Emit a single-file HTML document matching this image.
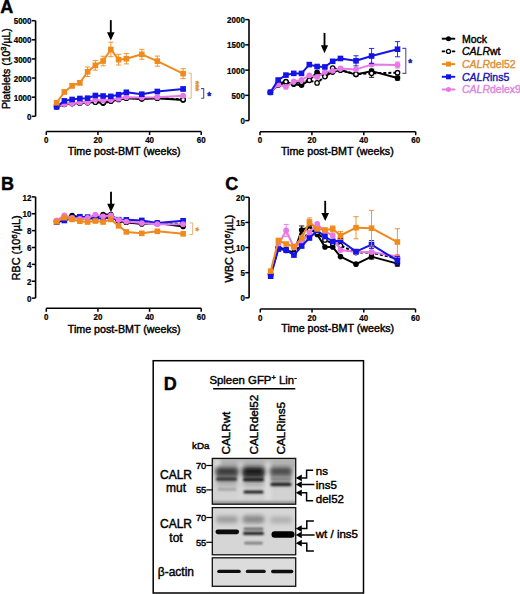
<!DOCTYPE html><html><head><meta charset="utf-8"><style>
html,body{margin:0;padding:0;background:#fff;width:520px;height:594px;overflow:hidden}
svg{display:block}
text{font-family:"Liberation Sans", sans-serif;stroke:#000;stroke-width:0.42px}
.tk{font-size:8px;font-weight:bold;stroke-width:0.2px}
.ax{font-size:10.7px}
.pl{font-size:18px;font-weight:bold}
.lg{font-size:10.5px}
</style></head><body>
<svg width="520" height="594" viewBox="0 0 520 594">
<text x="0.3" y="12.9" class="pl">A</text>
<text x="0.9" y="190.2" class="pl">B</text>
<text x="225.2" y="190.1" class="pl">C</text>
<line x1="35.6" y1="20.7" x2="35.6" y2="116.3" stroke="#000" stroke-width="1.6"/>
<line x1="31.8" y1="116.3" x2="35.6" y2="116.3" stroke="#000" stroke-width="1.5"/>
<text transform="translate(31.5,119.9) scale(1,1.15)" class="tk" text-anchor="end">0</text>
<line x1="31.8" y1="97.18" x2="35.6" y2="97.18" stroke="#000" stroke-width="1.5"/>
<text transform="translate(31.5,100.78) scale(1,1.15)" class="tk" text-anchor="end">1000</text>
<line x1="31.8" y1="78.06" x2="35.6" y2="78.06" stroke="#000" stroke-width="1.5"/>
<text transform="translate(31.5,81.66) scale(1,1.15)" class="tk" text-anchor="end">2000</text>
<line x1="31.8" y1="58.94" x2="35.6" y2="58.94" stroke="#000" stroke-width="1.5"/>
<text transform="translate(31.5,62.54) scale(1,1.15)" class="tk" text-anchor="end">3000</text>
<line x1="31.8" y1="39.82" x2="35.6" y2="39.82" stroke="#000" stroke-width="1.5"/>
<text transform="translate(31.5,43.42) scale(1,1.15)" class="tk" text-anchor="end">4000</text>
<line x1="31.8" y1="20.7" x2="35.6" y2="20.7" stroke="#000" stroke-width="1.5"/>
<text transform="translate(31.5,24.3) scale(1,1.15)" class="tk" text-anchor="end">5000</text>
<line x1="46.3" y1="131.5" x2="201.2" y2="131.5" stroke="#000" stroke-width="1.6"/>
<line x1="46.3" y1="131.5" x2="46.3" y2="135" stroke="#000" stroke-width="1.5"/>
<text transform="translate(46.3,143.1) scale(1,1.15)" class="tk" text-anchor="middle">0</text>
<line x1="97.93" y1="131.5" x2="97.93" y2="135" stroke="#000" stroke-width="1.5"/>
<text transform="translate(97.93,143.1) scale(1,1.15)" class="tk" text-anchor="middle">20</text>
<line x1="149.57" y1="131.5" x2="149.57" y2="135" stroke="#000" stroke-width="1.5"/>
<text transform="translate(149.57,143.1) scale(1,1.15)" class="tk" text-anchor="middle">40</text>
<line x1="201.2" y1="131.5" x2="201.2" y2="135" stroke="#000" stroke-width="1.5"/>
<text transform="translate(201.2,143.1) scale(1,1.15)" class="tk" text-anchor="middle">60</text>
<text x="67.8" y="155" class="ax">Time post-BMT (weeks)</text>
<text transform="translate(10,68.6) rotate(-90)" class="ax" font-size="10.5" style="font-size:10.5px" text-anchor="middle">Platelets (10<tspan dy="-4" font-size="7.5">3</tspan><tspan dy="4">/µL)</tspan></text>
<polyline points="56.63,106.74 64.37,104.45 72.12,103.68 79.86,102.92 87.61,102.53 95.35,101.79 103.1,103.18 110.84,101.18 118.59,99.47 126.33,98.14 141.82,99.09 157.31,98.14 183.13,100.05" fill="none" stroke="#000" stroke-width="2.0" stroke-linejoin="round"/>
<circle cx="56.63" cy="106.74" r="2.8" fill="#000"/>
<circle cx="64.37" cy="104.45" r="2.8" fill="#000"/>
<circle cx="72.12" cy="103.68" r="2.8" fill="#000"/>
<circle cx="79.86" cy="102.92" r="2.8" fill="#000"/>
<circle cx="87.61" cy="102.53" r="2.8" fill="#000"/>
<circle cx="95.35" cy="101.79" r="2.8" fill="#000"/>
<circle cx="103.1" cy="103.18" r="2.8" fill="#000"/>
<circle cx="110.84" cy="101.18" r="2.8" fill="#000"/>
<circle cx="118.59" cy="99.47" r="2.8" fill="#000"/>
<circle cx="126.33" cy="98.14" r="2.8" fill="#000"/>
<circle cx="141.82" cy="99.09" r="2.8" fill="#000"/>
<circle cx="157.31" cy="98.14" r="2.8" fill="#000"/>
<circle cx="183.13" cy="100.05" r="2.8" fill="#000"/>
<polyline points="56.63,106.36 64.37,104.06 72.12,103.3 79.86,102.92 87.61,102.53 95.35,102.15 103.1,102.53 110.84,101 118.59,99.09 126.33,97.94 141.82,98.52 157.31,97.94 183.13,99.47" fill="none" stroke="#000" stroke-width="2.0" stroke-dasharray="3,2" stroke-linejoin="round"/>
<circle cx="56.63" cy="106.36" r="2.2" fill="#fff" stroke="#000" stroke-width="1.3"/>
<circle cx="64.37" cy="104.06" r="2.2" fill="#fff" stroke="#000" stroke-width="1.3"/>
<circle cx="72.12" cy="103.3" r="2.2" fill="#fff" stroke="#000" stroke-width="1.3"/>
<circle cx="79.86" cy="102.92" r="2.2" fill="#fff" stroke="#000" stroke-width="1.3"/>
<circle cx="87.61" cy="102.53" r="2.2" fill="#fff" stroke="#000" stroke-width="1.3"/>
<circle cx="95.35" cy="102.15" r="2.2" fill="#fff" stroke="#000" stroke-width="1.3"/>
<circle cx="103.1" cy="102.53" r="2.2" fill="#fff" stroke="#000" stroke-width="1.3"/>
<circle cx="110.84" cy="101" r="2.2" fill="#fff" stroke="#000" stroke-width="1.3"/>
<circle cx="118.59" cy="99.09" r="2.2" fill="#fff" stroke="#000" stroke-width="1.3"/>
<circle cx="126.33" cy="97.94" r="2.2" fill="#fff" stroke="#000" stroke-width="1.3"/>
<circle cx="141.82" cy="98.52" r="2.2" fill="#fff" stroke="#000" stroke-width="1.3"/>
<circle cx="157.31" cy="97.94" r="2.2" fill="#fff" stroke="#000" stroke-width="1.3"/>
<circle cx="183.13" cy="99.47" r="2.2" fill="#fff" stroke="#000" stroke-width="1.3"/>
<polyline points="56.63,106.36 64.37,104.06 72.12,103.18 79.86,102.5 87.61,102.19 95.35,99.78 103.1,100.49 110.84,99.78 118.59,98.71 126.33,97.18 141.82,97.56 157.31,97.18 183.13,95.65" fill="none" stroke="#E878E8" stroke-width="2.0" stroke-linejoin="round"/>
<circle cx="56.63" cy="106.36" r="2.9" fill="#E878E8"/>
<circle cx="64.37" cy="104.06" r="2.9" fill="#E878E8"/>
<circle cx="72.12" cy="103.18" r="2.9" fill="#E878E8"/>
<circle cx="79.86" cy="102.5" r="2.9" fill="#E878E8"/>
<circle cx="87.61" cy="102.19" r="2.9" fill="#E878E8"/>
<circle cx="95.35" cy="99.78" r="2.9" fill="#E878E8"/>
<circle cx="103.1" cy="100.49" r="2.9" fill="#E878E8"/>
<circle cx="110.84" cy="99.78" r="2.9" fill="#E878E8"/>
<circle cx="118.59" cy="98.71" r="2.9" fill="#E878E8"/>
<circle cx="126.33" cy="97.18" r="2.9" fill="#E878E8"/>
<circle cx="141.82" cy="97.56" r="2.9" fill="#E878E8"/>
<circle cx="157.31" cy="97.18" r="2.9" fill="#E878E8"/>
<circle cx="183.13" cy="95.65" r="2.9" fill="#E878E8"/>
<path d="M183.13,87.07V90.89M180.53,87.07H185.73M180.53,90.89H185.73" stroke="#1414E6" stroke-width="0.9" fill="none"/>
<polyline points="56.63,106.89 64.37,100.89 72.12,99.47 79.86,98.48 87.61,98.17 95.35,95.48 103.1,95.98 110.84,96.38 118.59,94.68 126.33,92.29 141.82,94.18 157.31,91.48 183.13,88.98" fill="none" stroke="#1414E6" stroke-width="2.0" stroke-linejoin="round"/>
<rect x="53.83" y="104.09" width="5.6" height="5.6" fill="#1414E6"/>
<rect x="61.57" y="98.09" width="5.6" height="5.6" fill="#1414E6"/>
<rect x="69.32" y="96.67" width="5.6" height="5.6" fill="#1414E6"/>
<rect x="77.06" y="95.68" width="5.6" height="5.6" fill="#1414E6"/>
<rect x="84.81" y="95.37" width="5.6" height="5.6" fill="#1414E6"/>
<rect x="92.55" y="92.68" width="5.6" height="5.6" fill="#1414E6"/>
<rect x="100.3" y="93.18" width="5.6" height="5.6" fill="#1414E6"/>
<rect x="108.04" y="93.58" width="5.6" height="5.6" fill="#1414E6"/>
<rect x="115.79" y="91.88" width="5.6" height="5.6" fill="#1414E6"/>
<rect x="123.53" y="89.49" width="5.6" height="5.6" fill="#1414E6"/>
<rect x="139.02" y="91.38" width="5.6" height="5.6" fill="#1414E6"/>
<rect x="154.51" y="88.68" width="5.6" height="5.6" fill="#1414E6"/>
<rect x="180.33" y="86.18" width="5.6" height="5.6" fill="#1414E6"/>
<path d="M56.63,101.63V103.93M54.03,101.63H59.23M54.03,103.93H59.23" stroke="#F08A1C" stroke-width="0.9" fill="none"/>
<path d="M64.37,90.07V93.89M61.77,90.07H66.97M61.77,93.89H66.97" stroke="#F08A1C" stroke-width="0.9" fill="none"/>
<path d="M72.12,83.47V88.06M69.52,83.47H74.72M69.52,88.06H74.72" stroke="#F08A1C" stroke-width="0.9" fill="none"/>
<path d="M79.86,80.47V85.06M77.26,80.47H82.46M77.26,85.06H82.46" stroke="#F08A1C" stroke-width="0.9" fill="none"/>
<path d="M87.61,66.97V76.53M85.01,66.97H90.21M85.01,76.53H90.21" stroke="#F08A1C" stroke-width="0.9" fill="none"/>
<path d="M95.35,60.57V70.13M92.75,60.57H97.95M92.75,70.13H97.95" stroke="#F08A1C" stroke-width="0.9" fill="none"/>
<path d="M103.1,56.26V65.82M100.5,56.26H105.7M100.5,65.82H105.7" stroke="#F08A1C" stroke-width="0.9" fill="none"/>
<path d="M110.84,42.17V56.7M108.24,42.17H113.44M108.24,56.7H113.44" stroke="#F08A1C" stroke-width="0.9" fill="none"/>
<path d="M118.59,54.29V65M115.99,54.29H121.19M115.99,65H121.19" stroke="#F08A1C" stroke-width="0.9" fill="none"/>
<path d="M126.33,53.59V63.91M123.73,53.59H128.93M123.73,63.91H128.93" stroke="#F08A1C" stroke-width="0.9" fill="none"/>
<path d="M141.82,49.36V59.3M139.22,49.36H144.42M139.22,59.3H144.42" stroke="#F08A1C" stroke-width="0.9" fill="none"/>
<path d="M157.31,56.07V66.21M154.71,56.07H159.91M154.71,66.21H159.91" stroke="#F08A1C" stroke-width="0.9" fill="none"/>
<path d="M183.13,68.69V78.63M180.53,68.69H185.73M180.53,78.63H185.73" stroke="#F08A1C" stroke-width="0.9" fill="none"/>
<polyline points="56.63,102.78 64.37,91.98 72.12,85.77 79.86,82.76 87.61,71.75 95.35,65.35 103.1,61.04 110.84,49.44 118.59,59.65 126.33,58.75 141.82,54.33 157.31,61.14 183.13,73.66" fill="none" stroke="#F08A1C" stroke-width="2.0" stroke-linejoin="round"/>
<rect x="53.83" y="99.98" width="5.6" height="5.6" fill="#F08A1C"/>
<rect x="61.57" y="89.18" width="5.6" height="5.6" fill="#F08A1C"/>
<rect x="69.32" y="82.97" width="5.6" height="5.6" fill="#F08A1C"/>
<rect x="77.06" y="79.96" width="5.6" height="5.6" fill="#F08A1C"/>
<rect x="84.81" y="68.95" width="5.6" height="5.6" fill="#F08A1C"/>
<rect x="92.55" y="62.55" width="5.6" height="5.6" fill="#F08A1C"/>
<rect x="100.3" y="58.24" width="5.6" height="5.6" fill="#F08A1C"/>
<rect x="108.04" y="46.64" width="5.6" height="5.6" fill="#F08A1C"/>
<rect x="115.79" y="56.85" width="5.6" height="5.6" fill="#F08A1C"/>
<rect x="123.53" y="55.95" width="5.6" height="5.6" fill="#F08A1C"/>
<rect x="139.02" y="51.53" width="5.6" height="5.6" fill="#F08A1C"/>
<rect x="154.51" y="58.34" width="5.6" height="5.6" fill="#F08A1C"/>
<rect x="180.33" y="70.86" width="5.6" height="5.6" fill="#F08A1C"/>
<line x1="110.8" y1="20.1" x2="110.8" y2="33.3" stroke="#000" stroke-width="1.85"/>
<path d="M107,32.3L114.6,32.3L110.8,40.4Z" fill="#000"/>
<path d="M188.5,73.2H191.2V98.2H188.5" stroke="#E8B070" stroke-width="1" fill="none"/>
<text transform="translate(193.1,85.9) rotate(90)" font-size="9.5" style="fill:#E0922C;stroke:#E0922C" text-anchor="middle" font-weight="bold" letter-spacing="-0.3">***</text>
<path d="M201,88.6H203.7V98.2H201" stroke="#5050A8" stroke-width="1.1" fill="none"/>
<text x="207.2" y="100" font-size="10" style="fill:#1818A8;stroke:#1818A8" font-weight="bold">*</text>
<line x1="249" y1="19.6" x2="249" y2="120.6" stroke="#000" stroke-width="1.6"/>
<line x1="245.2" y1="120.6" x2="249" y2="120.6" stroke="#000" stroke-width="1.5"/>
<text transform="translate(244.9,124.2) scale(1,1.15)" class="tk" text-anchor="end">0</text>
<line x1="245.2" y1="95.35" x2="249" y2="95.35" stroke="#000" stroke-width="1.5"/>
<text transform="translate(244.9,98.95) scale(1,1.15)" class="tk" text-anchor="end">500</text>
<line x1="245.2" y1="70.1" x2="249" y2="70.1" stroke="#000" stroke-width="1.5"/>
<text transform="translate(244.9,73.7) scale(1,1.15)" class="tk" text-anchor="end">1000</text>
<line x1="245.2" y1="44.85" x2="249" y2="44.85" stroke="#000" stroke-width="1.5"/>
<text transform="translate(244.9,48.45) scale(1,1.15)" class="tk" text-anchor="end">1500</text>
<line x1="245.2" y1="19.6" x2="249" y2="19.6" stroke="#000" stroke-width="1.5"/>
<text transform="translate(244.9,23.2) scale(1,1.15)" class="tk" text-anchor="end">2000</text>
<line x1="260" y1="131.7" x2="415.7" y2="131.7" stroke="#000" stroke-width="1.6"/>
<line x1="260" y1="131.7" x2="260" y2="135.2" stroke="#000" stroke-width="1.5"/>
<text transform="translate(260,143.3) scale(1,1.15)" class="tk" text-anchor="middle">0</text>
<line x1="311.9" y1="131.7" x2="311.9" y2="135.2" stroke="#000" stroke-width="1.5"/>
<text transform="translate(311.9,143.3) scale(1,1.15)" class="tk" text-anchor="middle">20</text>
<line x1="363.8" y1="131.7" x2="363.8" y2="135.2" stroke="#000" stroke-width="1.5"/>
<text transform="translate(363.8,143.3) scale(1,1.15)" class="tk" text-anchor="middle">40</text>
<line x1="415.7" y1="131.7" x2="415.7" y2="135.2" stroke="#000" stroke-width="1.5"/>
<text transform="translate(415.7,143.3) scale(1,1.15)" class="tk" text-anchor="middle">60</text>
<text x="280.9" y="155" class="ax">Time post-BMT (weeks)</text>
<path d="M397.53,76.06V80.1M394.93,76.06H400.13M394.93,80.1H400.13" stroke="#000" stroke-width="0.9" fill="none"/>
<polyline points="270.38,92.32 278.17,85.25 285.95,82.22 293.74,84.24 301.52,85.25 309.31,80.2 317.09,72.32 324.88,76.16 332.66,72.12 340.44,70.1 356.01,74.59 371.58,71.11 397.53,78.08" fill="none" stroke="#000" stroke-width="2.0" stroke-linejoin="round"/>
<circle cx="270.38" cy="92.32" r="2.8" fill="#000"/>
<circle cx="278.17" cy="85.25" r="2.8" fill="#000"/>
<circle cx="285.95" cy="82.22" r="2.8" fill="#000"/>
<circle cx="293.74" cy="84.24" r="2.8" fill="#000"/>
<circle cx="301.52" cy="85.25" r="2.8" fill="#000"/>
<circle cx="309.31" cy="80.2" r="2.8" fill="#000"/>
<circle cx="317.09" cy="72.32" r="2.8" fill="#000"/>
<circle cx="324.88" cy="76.16" r="2.8" fill="#000"/>
<circle cx="332.66" cy="72.12" r="2.8" fill="#000"/>
<circle cx="340.44" cy="70.1" r="2.8" fill="#000"/>
<circle cx="356.01" cy="74.59" r="2.8" fill="#000"/>
<circle cx="371.58" cy="71.11" r="2.8" fill="#000"/>
<circle cx="397.53" cy="78.08" r="2.8" fill="#000"/>
<path d="M371.58,69.24V77.32M368.98,69.24H374.19M368.98,77.32H374.19" stroke="#000" stroke-width="0.9" fill="none"/>
<polyline points="270.38,92.32 278.17,83.23 285.95,81.72 293.74,83.23 301.52,82.22 309.31,80.3 317.09,82.88 324.88,76.61 332.66,67.98 340.44,70.1 356.01,74.14 371.58,73.28 397.53,72.68" fill="none" stroke="#000" stroke-width="2.0" stroke-dasharray="3,2" stroke-linejoin="round"/>
<circle cx="270.38" cy="92.32" r="2.2" fill="#fff" stroke="#000" stroke-width="1.3"/>
<circle cx="278.17" cy="83.23" r="2.2" fill="#fff" stroke="#000" stroke-width="1.3"/>
<circle cx="285.95" cy="81.72" r="2.2" fill="#fff" stroke="#000" stroke-width="1.3"/>
<circle cx="293.74" cy="83.23" r="2.2" fill="#fff" stroke="#000" stroke-width="1.3"/>
<circle cx="301.52" cy="82.22" r="2.2" fill="#fff" stroke="#000" stroke-width="1.3"/>
<circle cx="309.31" cy="80.3" r="2.2" fill="#fff" stroke="#000" stroke-width="1.3"/>
<circle cx="317.09" cy="82.88" r="2.2" fill="#fff" stroke="#000" stroke-width="1.3"/>
<circle cx="324.88" cy="76.61" r="2.2" fill="#fff" stroke="#000" stroke-width="1.3"/>
<circle cx="332.66" cy="67.98" r="2.2" fill="#fff" stroke="#000" stroke-width="1.3"/>
<circle cx="340.44" cy="70.1" r="2.2" fill="#fff" stroke="#000" stroke-width="1.3"/>
<circle cx="356.01" cy="74.14" r="2.2" fill="#fff" stroke="#000" stroke-width="1.3"/>
<circle cx="371.58" cy="73.28" r="2.2" fill="#fff" stroke="#000" stroke-width="1.3"/>
<circle cx="397.53" cy="72.68" r="2.2" fill="#fff" stroke="#000" stroke-width="1.3"/>
<path d="M397.53,61.97V68.03M394.93,61.97H400.13M394.93,68.03H400.13" stroke="#E878E8" stroke-width="0.9" fill="none"/>
<polyline points="270.38,92.32 278.17,84.59 285.95,86.92 293.74,81.51 301.52,80 309.31,75.4 317.09,76.92 324.88,72.12 332.66,70.81 340.44,68.48 356.01,69.39 371.58,64.6 397.53,65" fill="none" stroke="#E878E8" stroke-width="2.0" stroke-linejoin="round"/>
<circle cx="270.38" cy="92.32" r="2.9" fill="#E878E8"/>
<circle cx="278.17" cy="84.59" r="2.9" fill="#E878E8"/>
<circle cx="285.95" cy="86.92" r="2.9" fill="#E878E8"/>
<circle cx="293.74" cy="81.51" r="2.9" fill="#E878E8"/>
<circle cx="301.52" cy="80" r="2.9" fill="#E878E8"/>
<circle cx="309.31" cy="75.4" r="2.9" fill="#E878E8"/>
<circle cx="317.09" cy="76.92" r="2.9" fill="#E878E8"/>
<circle cx="324.88" cy="72.12" r="2.9" fill="#E878E8"/>
<circle cx="332.66" cy="70.81" r="2.9" fill="#E878E8"/>
<circle cx="340.44" cy="68.48" r="2.9" fill="#E878E8"/>
<circle cx="356.01" cy="69.39" r="2.9" fill="#E878E8"/>
<circle cx="371.58" cy="64.6" r="2.9" fill="#E878E8"/>
<circle cx="397.53" cy="65" r="2.9" fill="#E878E8"/>
<path d="M356.01,55.76V65.86M353.41,55.76H358.62M353.41,65.86H358.62" stroke="#1414E6" stroke-width="0.9" fill="none"/>
<path d="M371.58,48.44V63.59M368.98,48.44H374.19M368.98,63.59H374.19" stroke="#1414E6" stroke-width="0.9" fill="none"/>
<path d="M397.53,41.62V56.77M394.93,41.62H400.13M394.93,56.77H400.13" stroke="#1414E6" stroke-width="0.9" fill="none"/>
<polyline points="270.38,92.32 278.17,80 285.95,75.1 293.74,73.38 301.52,73.38 309.31,64.6 317.09,66.51 324.88,66.92 332.66,61.31 340.44,58.48 356.01,60.81 371.58,56.01 397.53,49.19" fill="none" stroke="#1414E6" stroke-width="2.0" stroke-linejoin="round"/>
<rect x="267.58" y="89.52" width="5.6" height="5.6" fill="#1414E6"/>
<rect x="275.37" y="77.2" width="5.6" height="5.6" fill="#1414E6"/>
<rect x="283.15" y="72.3" width="5.6" height="5.6" fill="#1414E6"/>
<rect x="290.94" y="70.58" width="5.6" height="5.6" fill="#1414E6"/>
<rect x="298.72" y="70.58" width="5.6" height="5.6" fill="#1414E6"/>
<rect x="306.5" y="61.8" width="5.6" height="5.6" fill="#1414E6"/>
<rect x="314.29" y="63.71" width="5.6" height="5.6" fill="#1414E6"/>
<rect x="322.07" y="64.12" width="5.6" height="5.6" fill="#1414E6"/>
<rect x="329.86" y="58.51" width="5.6" height="5.6" fill="#1414E6"/>
<rect x="337.64" y="55.68" width="5.6" height="5.6" fill="#1414E6"/>
<rect x="353.21" y="58.01" width="5.6" height="5.6" fill="#1414E6"/>
<rect x="368.78" y="53.21" width="5.6" height="5.6" fill="#1414E6"/>
<rect x="394.73" y="46.39" width="5.6" height="5.6" fill="#1414E6"/>
<line x1="324.5" y1="32.9" x2="324.5" y2="46.3" stroke="#000" stroke-width="1.85"/>
<path d="M320.9,45.3L328.1,45.3L324.5,53.3Z" fill="#000"/>
<path d="M402.4,48.4H405.8V73.4H402.4" stroke="#5050A8" stroke-width="1.1" fill="none"/>
<text x="408.2" y="67.2" font-size="10" style="fill:#1818A8;stroke:#1818A8" font-weight="bold">*</text>
<line x1="441.8" y1="38.7" x2="455.2" y2="38.7" stroke="#000" stroke-width="1.9"/>
<circle cx="448.5" cy="38.7" r="2.5" fill="#000"/>
<text x="462" y="42.5" class="lg" style="fill:#000;stroke:#000;stroke-width:0.4px">Mock</text>
<path d="M441.8,51.4H445.2M451.8,51.4H455.2" stroke="#000" stroke-width="1.9"/>
<circle cx="448.5" cy="51.4" r="2" fill="#fff" stroke="#000" stroke-width="1.2"/>
<text x="462" y="55.2" class="lg" style="fill:#000;stroke:#000;stroke-width:0.4px"><tspan font-style="italic">CALR</tspan>wt</text>
<line x1="441.8" y1="64.1" x2="455.2" y2="64.1" stroke="#F08A1C" stroke-width="1.9"/>
<rect x="446" y="61.6" width="5" height="5" fill="#F08A1C"/>
<text x="462" y="67.9" class="lg" style="fill:#DC9038;stroke:#DC9038;stroke-width:0.4px"><tspan font-style="italic">CALR</tspan>del52</text>
<line x1="441.8" y1="76.8" x2="455.2" y2="76.8" stroke="#1414E6" stroke-width="1.9"/>
<rect x="446" y="74.3" width="5" height="5" fill="#1414E6"/>
<text x="462" y="80.6" class="lg" style="fill:#1616B0;stroke:#1616B0;stroke-width:0.4px"><tspan font-style="italic">CALR</tspan>ins5</text>
<line x1="441.8" y1="89.5" x2="455.2" y2="89.5" stroke="#E878E8" stroke-width="1.9"/>
<circle cx="448.5" cy="89.5" r="2.5" fill="#E878E8"/>
<text x="462" y="93.3" class="lg" style="fill:#DC86DC;stroke:#DC86DC;stroke-width:0.4px"><tspan font-style="italic">CALR</tspan>delex9</text>
<line x1="35.6" y1="196.9" x2="35.6" y2="298.1" stroke="#000" stroke-width="1.6"/>
<line x1="31.8" y1="298.1" x2="35.6" y2="298.1" stroke="#000" stroke-width="1.5"/>
<text transform="translate(31.5,301.7) scale(1,1.15)" class="tk" text-anchor="end">0</text>
<line x1="31.8" y1="281.23" x2="35.6" y2="281.23" stroke="#000" stroke-width="1.5"/>
<text transform="translate(31.5,284.83) scale(1,1.15)" class="tk" text-anchor="end">2</text>
<line x1="31.8" y1="264.37" x2="35.6" y2="264.37" stroke="#000" stroke-width="1.5"/>
<text transform="translate(31.5,267.97) scale(1,1.15)" class="tk" text-anchor="end">4</text>
<line x1="31.8" y1="247.5" x2="35.6" y2="247.5" stroke="#000" stroke-width="1.5"/>
<text transform="translate(31.5,251.1) scale(1,1.15)" class="tk" text-anchor="end">6</text>
<line x1="31.8" y1="230.63" x2="35.6" y2="230.63" stroke="#000" stroke-width="1.5"/>
<text transform="translate(31.5,234.23) scale(1,1.15)" class="tk" text-anchor="end">8</text>
<line x1="31.8" y1="213.77" x2="35.6" y2="213.77" stroke="#000" stroke-width="1.5"/>
<text transform="translate(31.5,217.37) scale(1,1.15)" class="tk" text-anchor="end">10</text>
<line x1="31.8" y1="196.9" x2="35.6" y2="196.9" stroke="#000" stroke-width="1.5"/>
<text transform="translate(31.5,200.5) scale(1,1.15)" class="tk" text-anchor="end">12</text>
<line x1="46.3" y1="308.3" x2="201.2" y2="308.3" stroke="#000" stroke-width="1.6"/>
<line x1="46.3" y1="308.3" x2="46.3" y2="311.8" stroke="#000" stroke-width="1.5"/>
<text transform="translate(46.3,319.9) scale(1,1.15)" class="tk" text-anchor="middle">0</text>
<line x1="97.93" y1="308.3" x2="97.93" y2="311.8" stroke="#000" stroke-width="1.5"/>
<text transform="translate(97.93,319.9) scale(1,1.15)" class="tk" text-anchor="middle">20</text>
<line x1="149.57" y1="308.3" x2="149.57" y2="311.8" stroke="#000" stroke-width="1.5"/>
<text transform="translate(149.57,319.9) scale(1,1.15)" class="tk" text-anchor="middle">40</text>
<line x1="201.2" y1="308.3" x2="201.2" y2="311.8" stroke="#000" stroke-width="1.5"/>
<text transform="translate(201.2,319.9) scale(1,1.15)" class="tk" text-anchor="middle">60</text>
<text x="67.8" y="333" class="ax">Time post-BMT (weeks)</text>
<text transform="translate(20.3,247.9) rotate(-90)" class="ax" font-size="10.9" style="font-size:10.9px" text-anchor="middle">RBC (10<tspan dy="-3.8" font-size="8">6</tspan><tspan dy="3.8">/µL)</tspan></text>
<polyline points="56.63,221.36 64.37,218.83 72.12,215.45 79.86,217.14 87.61,217.98 95.35,217.14 103.1,214.61 110.84,214.61 118.59,220.51 126.33,222.2 141.82,223.89 157.31,223.04 183.13,226.42" fill="none" stroke="#000" stroke-width="2.0" stroke-linejoin="round"/>
<circle cx="56.63" cy="221.36" r="2.8" fill="#000"/>
<circle cx="64.37" cy="218.83" r="2.8" fill="#000"/>
<circle cx="72.12" cy="215.45" r="2.8" fill="#000"/>
<circle cx="79.86" cy="217.14" r="2.8" fill="#000"/>
<circle cx="87.61" cy="217.98" r="2.8" fill="#000"/>
<circle cx="95.35" cy="217.14" r="2.8" fill="#000"/>
<circle cx="103.1" cy="214.61" r="2.8" fill="#000"/>
<circle cx="110.84" cy="214.61" r="2.8" fill="#000"/>
<circle cx="118.59" cy="220.51" r="2.8" fill="#000"/>
<circle cx="126.33" cy="222.2" r="2.8" fill="#000"/>
<circle cx="141.82" cy="223.89" r="2.8" fill="#000"/>
<circle cx="157.31" cy="223.04" r="2.8" fill="#000"/>
<circle cx="183.13" cy="226.42" r="2.8" fill="#000"/>
<polyline points="56.63,221.36 64.37,218.83 72.12,217.14 79.86,217.98 87.61,218.83 95.35,217.98 103.1,217.14 110.84,217.14 118.59,221.36 126.33,222.2 141.82,223.04 157.31,223.04 183.13,223.89" fill="none" stroke="#000" stroke-width="2.0" stroke-dasharray="3,2" stroke-linejoin="round"/>
<circle cx="56.63" cy="221.36" r="2.2" fill="#fff" stroke="#000" stroke-width="1.3"/>
<circle cx="64.37" cy="218.83" r="2.2" fill="#fff" stroke="#000" stroke-width="1.3"/>
<circle cx="72.12" cy="217.14" r="2.2" fill="#fff" stroke="#000" stroke-width="1.3"/>
<circle cx="79.86" cy="217.98" r="2.2" fill="#fff" stroke="#000" stroke-width="1.3"/>
<circle cx="87.61" cy="218.83" r="2.2" fill="#fff" stroke="#000" stroke-width="1.3"/>
<circle cx="95.35" cy="217.98" r="2.2" fill="#fff" stroke="#000" stroke-width="1.3"/>
<circle cx="103.1" cy="217.14" r="2.2" fill="#fff" stroke="#000" stroke-width="1.3"/>
<circle cx="110.84" cy="217.14" r="2.2" fill="#fff" stroke="#000" stroke-width="1.3"/>
<circle cx="118.59" cy="221.36" r="2.2" fill="#fff" stroke="#000" stroke-width="1.3"/>
<circle cx="126.33" cy="222.2" r="2.2" fill="#fff" stroke="#000" stroke-width="1.3"/>
<circle cx="141.82" cy="223.04" r="2.2" fill="#fff" stroke="#000" stroke-width="1.3"/>
<circle cx="157.31" cy="223.04" r="2.2" fill="#fff" stroke="#000" stroke-width="1.3"/>
<circle cx="183.13" cy="223.89" r="2.2" fill="#fff" stroke="#000" stroke-width="1.3"/>
<polyline points="56.63,222.2 64.37,220.51 72.12,217.98 79.86,216.72 87.61,217.14 95.35,218.83 103.1,217.98 110.84,217.98 118.59,219.67 126.33,219.84 141.82,220.43 157.31,223.04 183.13,220.77" fill="none" stroke="#1414E6" stroke-width="2.0" stroke-linejoin="round"/>
<rect x="53.83" y="219.4" width="5.6" height="5.6" fill="#1414E6"/>
<rect x="61.57" y="217.71" width="5.6" height="5.6" fill="#1414E6"/>
<rect x="69.32" y="215.18" width="5.6" height="5.6" fill="#1414E6"/>
<rect x="77.06" y="213.92" width="5.6" height="5.6" fill="#1414E6"/>
<rect x="84.81" y="214.34" width="5.6" height="5.6" fill="#1414E6"/>
<rect x="92.55" y="216.03" width="5.6" height="5.6" fill="#1414E6"/>
<rect x="100.3" y="215.18" width="5.6" height="5.6" fill="#1414E6"/>
<rect x="108.04" y="215.18" width="5.6" height="5.6" fill="#1414E6"/>
<rect x="115.79" y="216.87" width="5.6" height="5.6" fill="#1414E6"/>
<rect x="123.53" y="217.04" width="5.6" height="5.6" fill="#1414E6"/>
<rect x="139.02" y="217.63" width="5.6" height="5.6" fill="#1414E6"/>
<rect x="154.51" y="220.24" width="5.6" height="5.6" fill="#1414E6"/>
<rect x="180.33" y="217.97" width="5.6" height="5.6" fill="#1414E6"/>
<polyline points="56.63,220.51 64.37,215.45 72.12,217.98 79.86,218.83 87.61,217.98 95.35,214.61 103.1,216.3 110.84,215.45 118.59,219.84 126.33,221.53 141.82,223.04 157.31,224.22 183.13,224.22" fill="none" stroke="#E878E8" stroke-width="2.0" stroke-linejoin="round"/>
<circle cx="56.63" cy="220.51" r="2.9" fill="#E878E8"/>
<circle cx="64.37" cy="215.45" r="2.9" fill="#E878E8"/>
<circle cx="72.12" cy="217.98" r="2.9" fill="#E878E8"/>
<circle cx="79.86" cy="218.83" r="2.9" fill="#E878E8"/>
<circle cx="87.61" cy="217.98" r="2.9" fill="#E878E8"/>
<circle cx="95.35" cy="214.61" r="2.9" fill="#E878E8"/>
<circle cx="103.1" cy="216.3" r="2.9" fill="#E878E8"/>
<circle cx="110.84" cy="215.45" r="2.9" fill="#E878E8"/>
<circle cx="118.59" cy="219.84" r="2.9" fill="#E878E8"/>
<circle cx="126.33" cy="221.53" r="2.9" fill="#E878E8"/>
<circle cx="141.82" cy="223.04" r="2.9" fill="#E878E8"/>
<circle cx="157.31" cy="224.22" r="2.9" fill="#E878E8"/>
<circle cx="183.13" cy="224.22" r="2.9" fill="#E878E8"/>
<polyline points="56.63,221.86 64.37,217.73 72.12,219.42 79.86,221.19 87.61,222.03 95.35,221.02 103.1,222.03 110.84,219.42 118.59,225.83 126.33,231.9 141.82,233.33 157.31,231.31 183.13,233.84" fill="none" stroke="#F08A1C" stroke-width="2.0" stroke-linejoin="round"/>
<rect x="53.83" y="219.06" width="5.6" height="5.6" fill="#F08A1C"/>
<rect x="61.57" y="214.93" width="5.6" height="5.6" fill="#F08A1C"/>
<rect x="69.32" y="216.62" width="5.6" height="5.6" fill="#F08A1C"/>
<rect x="77.06" y="218.39" width="5.6" height="5.6" fill="#F08A1C"/>
<rect x="84.81" y="219.23" width="5.6" height="5.6" fill="#F08A1C"/>
<rect x="92.55" y="218.22" width="5.6" height="5.6" fill="#F08A1C"/>
<rect x="100.3" y="219.23" width="5.6" height="5.6" fill="#F08A1C"/>
<rect x="108.04" y="216.62" width="5.6" height="5.6" fill="#F08A1C"/>
<rect x="115.79" y="223.03" width="5.6" height="5.6" fill="#F08A1C"/>
<rect x="123.53" y="229.1" width="5.6" height="5.6" fill="#F08A1C"/>
<rect x="139.02" y="230.53" width="5.6" height="5.6" fill="#F08A1C"/>
<rect x="154.51" y="228.51" width="5.6" height="5.6" fill="#F08A1C"/>
<rect x="180.33" y="231.04" width="5.6" height="5.6" fill="#F08A1C"/>
<line x1="111" y1="191.8" x2="111" y2="204.8" stroke="#000" stroke-width="1.85"/>
<path d="M107.2,203.8L114.8,203.8L111,212.3Z" fill="#000"/>
<path d="M189.4,222.9H192.7V234.5H189.4" stroke="#E8B070" stroke-width="1" fill="none"/>
<text transform="translate(192.6,229.3) rotate(90)" font-size="9.5" style="fill:#E0922C;stroke:#E0922C" text-anchor="middle" font-weight="bold">*</text>
<line x1="249.1" y1="197.3" x2="249.1" y2="297.8" stroke="#000" stroke-width="1.6"/>
<line x1="245.3" y1="297.8" x2="249.1" y2="297.8" stroke="#000" stroke-width="1.5"/>
<text transform="translate(245,301.4) scale(1,1.15)" class="tk" text-anchor="end">0</text>
<line x1="245.3" y1="272.68" x2="249.1" y2="272.68" stroke="#000" stroke-width="1.5"/>
<text transform="translate(245,276.28) scale(1,1.15)" class="tk" text-anchor="end">5</text>
<line x1="245.3" y1="247.55" x2="249.1" y2="247.55" stroke="#000" stroke-width="1.5"/>
<text transform="translate(245,251.15) scale(1,1.15)" class="tk" text-anchor="end">10</text>
<line x1="245.3" y1="222.43" x2="249.1" y2="222.43" stroke="#000" stroke-width="1.5"/>
<text transform="translate(245,226.03) scale(1,1.15)" class="tk" text-anchor="end">15</text>
<line x1="245.3" y1="197.3" x2="249.1" y2="197.3" stroke="#000" stroke-width="1.5"/>
<text transform="translate(245,200.9) scale(1,1.15)" class="tk" text-anchor="end">20</text>
<line x1="260.3" y1="309" x2="415.5" y2="309" stroke="#000" stroke-width="1.6"/>
<line x1="260.3" y1="309" x2="260.3" y2="312.5" stroke="#000" stroke-width="1.5"/>
<text transform="translate(260.3,320.6) scale(1,1.15)" class="tk" text-anchor="middle">0</text>
<line x1="312.03" y1="309" x2="312.03" y2="312.5" stroke="#000" stroke-width="1.5"/>
<text transform="translate(312.03,320.6) scale(1,1.15)" class="tk" text-anchor="middle">20</text>
<line x1="363.77" y1="309" x2="363.77" y2="312.5" stroke="#000" stroke-width="1.5"/>
<text transform="translate(363.77,320.6) scale(1,1.15)" class="tk" text-anchor="middle">40</text>
<line x1="415.5" y1="309" x2="415.5" y2="312.5" stroke="#000" stroke-width="1.5"/>
<text transform="translate(415.5,320.6) scale(1,1.15)" class="tk" text-anchor="middle">60</text>
<text x="281.3" y="331.9" class="ax">Time post-BMT (weeks)</text>
<text transform="translate(233.4,248.7) rotate(-90)" class="ax" font-size="10.9" style="font-size:10.9px" text-anchor="middle">WBC (10<tspan dy="-3.8" font-size="8">6</tspan><tspan dy="3.8">/µL)</tspan></text>
<path d="M301.69,225.94V233.98M299.09,225.94H304.29M299.09,233.98H304.29" stroke="#000" stroke-width="0.9" fill="none"/>
<path d="M371.53,254.08V259.11M368.93,254.08H374.13M368.93,259.11H374.13" stroke="#000" stroke-width="0.9" fill="none"/>
<path d="M397.39,261.12V266.14M394.79,261.12H399.99M394.79,266.14H399.99" stroke="#000" stroke-width="0.9" fill="none"/>
<polyline points="270.65,274.69 278.41,247.55 286.17,250.56 293.93,252.58 301.69,229.96 309.45,226.95 317.21,234.49 324.97,247.05 332.73,247.05 340.49,256.6 356.01,264.13 371.53,256.6 397.39,263.63" fill="none" stroke="#000" stroke-width="2.0" stroke-linejoin="round"/>
<circle cx="270.65" cy="274.69" r="2.8" fill="#000"/>
<circle cx="278.41" cy="247.55" r="2.8" fill="#000"/>
<circle cx="286.17" cy="250.56" r="2.8" fill="#000"/>
<circle cx="293.93" cy="252.58" r="2.8" fill="#000"/>
<circle cx="301.69" cy="229.96" r="2.8" fill="#000"/>
<circle cx="309.45" cy="226.95" r="2.8" fill="#000"/>
<circle cx="317.21" cy="234.49" r="2.8" fill="#000"/>
<circle cx="324.97" cy="247.05" r="2.8" fill="#000"/>
<circle cx="332.73" cy="247.05" r="2.8" fill="#000"/>
<circle cx="340.49" cy="256.6" r="2.8" fill="#000"/>
<circle cx="356.01" cy="264.13" r="2.8" fill="#000"/>
<circle cx="371.53" cy="256.6" r="2.8" fill="#000"/>
<circle cx="397.39" cy="263.63" r="2.8" fill="#000"/>
<polyline points="270.65,274.69 278.41,247.55 286.17,249.56 293.93,253.58 301.69,243.53 309.45,229.96 317.21,232.48 324.97,240.01 332.73,243.53 340.49,245.54 356.01,252.58 371.53,252.58 397.39,258.61" fill="none" stroke="#000" stroke-width="2.0" stroke-dasharray="3,2" stroke-linejoin="round"/>
<circle cx="270.65" cy="274.69" r="2.2" fill="#fff" stroke="#000" stroke-width="1.3"/>
<circle cx="278.41" cy="247.55" r="2.2" fill="#fff" stroke="#000" stroke-width="1.3"/>
<circle cx="286.17" cy="249.56" r="2.2" fill="#fff" stroke="#000" stroke-width="1.3"/>
<circle cx="293.93" cy="253.58" r="2.2" fill="#fff" stroke="#000" stroke-width="1.3"/>
<circle cx="301.69" cy="243.53" r="2.2" fill="#fff" stroke="#000" stroke-width="1.3"/>
<circle cx="309.45" cy="229.96" r="2.2" fill="#fff" stroke="#000" stroke-width="1.3"/>
<circle cx="317.21" cy="232.48" r="2.2" fill="#fff" stroke="#000" stroke-width="1.3"/>
<circle cx="324.97" cy="240.01" r="2.2" fill="#fff" stroke="#000" stroke-width="1.3"/>
<circle cx="332.73" cy="243.53" r="2.2" fill="#fff" stroke="#000" stroke-width="1.3"/>
<circle cx="340.49" cy="245.54" r="2.2" fill="#fff" stroke="#000" stroke-width="1.3"/>
<circle cx="356.01" cy="252.58" r="2.2" fill="#fff" stroke="#000" stroke-width="1.3"/>
<circle cx="371.53" cy="252.58" r="2.2" fill="#fff" stroke="#000" stroke-width="1.3"/>
<circle cx="397.39" cy="258.61" r="2.2" fill="#fff" stroke="#000" stroke-width="1.3"/>
<path d="M286.17,224.44V236.5M283.57,224.44H288.77M283.57,236.5H288.77" stroke="#E878E8" stroke-width="0.9" fill="none"/>
<polyline points="270.65,273.68 278.41,244.54 286.17,230.47 293.93,247.55 301.69,242.53 309.45,232.48 317.21,223.93 324.97,231.47 332.73,235.49 340.49,250.06 356.01,252.07 371.53,252.07 397.39,256.6" fill="none" stroke="#E878E8" stroke-width="2.0" stroke-linejoin="round"/>
<circle cx="270.65" cy="273.68" r="2.9" fill="#E878E8"/>
<circle cx="278.41" cy="244.54" r="2.9" fill="#E878E8"/>
<circle cx="286.17" cy="230.47" r="2.9" fill="#E878E8"/>
<circle cx="293.93" cy="247.55" r="2.9" fill="#E878E8"/>
<circle cx="301.69" cy="242.53" r="2.9" fill="#E878E8"/>
<circle cx="309.45" cy="232.48" r="2.9" fill="#E878E8"/>
<circle cx="317.21" cy="223.93" r="2.9" fill="#E878E8"/>
<circle cx="324.97" cy="231.47" r="2.9" fill="#E878E8"/>
<circle cx="332.73" cy="235.49" r="2.9" fill="#E878E8"/>
<circle cx="340.49" cy="250.06" r="2.9" fill="#E878E8"/>
<circle cx="356.01" cy="252.07" r="2.9" fill="#E878E8"/>
<circle cx="371.53" cy="252.07" r="2.9" fill="#E878E8"/>
<circle cx="397.39" cy="256.6" r="2.9" fill="#E878E8"/>
<path d="M371.53,240.52V248.56M368.93,240.52H374.13M368.93,248.56H374.13" stroke="#1414E6" stroke-width="0.9" fill="none"/>
<path d="M397.39,256.6V264.63M394.79,256.6H399.99M394.79,264.63H399.99" stroke="#1414E6" stroke-width="0.9" fill="none"/>
<polyline points="270.65,276.19 278.41,249.06 286.17,250.06 293.93,255.09 301.69,246.04 309.45,238 317.21,230.47 324.97,236.5 332.73,241.52 340.49,240.52 356.01,251.57 371.53,244.54 397.39,260.62" fill="none" stroke="#1414E6" stroke-width="2.0" stroke-linejoin="round"/>
<rect x="267.85" y="273.39" width="5.6" height="5.6" fill="#1414E6"/>
<rect x="275.61" y="246.26" width="5.6" height="5.6" fill="#1414E6"/>
<rect x="283.37" y="247.26" width="5.6" height="5.6" fill="#1414E6"/>
<rect x="291.13" y="252.29" width="5.6" height="5.6" fill="#1414E6"/>
<rect x="298.89" y="243.24" width="5.6" height="5.6" fill="#1414E6"/>
<rect x="306.65" y="235.2" width="5.6" height="5.6" fill="#1414E6"/>
<rect x="314.41" y="227.66" width="5.6" height="5.6" fill="#1414E6"/>
<rect x="322.17" y="233.69" width="5.6" height="5.6" fill="#1414E6"/>
<rect x="329.93" y="238.72" width="5.6" height="5.6" fill="#1414E6"/>
<rect x="337.69" y="237.72" width="5.6" height="5.6" fill="#1414E6"/>
<rect x="353.21" y="248.77" width="5.6" height="5.6" fill="#1414E6"/>
<rect x="368.73" y="241.74" width="5.6" height="5.6" fill="#1414E6"/>
<rect x="394.59" y="257.81" width="5.6" height="5.6" fill="#1414E6"/>
<path d="M309.45,217.9V225.94M306.85,217.9H312.05M306.85,225.94H312.05" stroke="#F08A1C" stroke-width="0.9" fill="none"/>
<path d="M332.73,225.94V231.97M330.13,225.94H335.33M330.13,231.97H335.33" stroke="#F08A1C" stroke-width="0.9" fill="none"/>
<path d="M340.49,231.47V239.51M337.89,231.47H343.09M337.89,239.51H343.09" stroke="#F08A1C" stroke-width="0.9" fill="none"/>
<path d="M356.01,216.65V238.76M353.41,216.65H358.61M353.41,238.76H358.61" stroke="#F08A1C" stroke-width="0.9" fill="none"/>
<path d="M371.53,210.37V246.04M368.93,210.37H374.13M368.93,246.04H374.13" stroke="#F08A1C" stroke-width="0.9" fill="none"/>
<path d="M397.39,228.71V255.34M394.79,228.71H399.99M394.79,255.34H399.99" stroke="#F08A1C" stroke-width="0.9" fill="none"/>
<polyline points="270.65,271.17 278.41,240.52 286.17,244.03 293.93,246.55 301.69,238 309.45,221.92 317.21,228.96 324.97,229.96 332.73,228.96 340.49,235.49 356.01,227.7 371.53,228.2 397.39,242.02" fill="none" stroke="#F08A1C" stroke-width="2.0" stroke-linejoin="round"/>
<rect x="267.85" y="268.37" width="5.6" height="5.6" fill="#F08A1C"/>
<rect x="275.61" y="237.72" width="5.6" height="5.6" fill="#F08A1C"/>
<rect x="283.37" y="241.23" width="5.6" height="5.6" fill="#F08A1C"/>
<rect x="291.13" y="243.75" width="5.6" height="5.6" fill="#F08A1C"/>
<rect x="298.89" y="235.2" width="5.6" height="5.6" fill="#F08A1C"/>
<rect x="306.65" y="219.12" width="5.6" height="5.6" fill="#F08A1C"/>
<rect x="314.41" y="226.16" width="5.6" height="5.6" fill="#F08A1C"/>
<rect x="322.17" y="227.16" width="5.6" height="5.6" fill="#F08A1C"/>
<rect x="329.93" y="226.16" width="5.6" height="5.6" fill="#F08A1C"/>
<rect x="337.69" y="232.69" width="5.6" height="5.6" fill="#F08A1C"/>
<rect x="353.21" y="224.9" width="5.6" height="5.6" fill="#F08A1C"/>
<rect x="368.73" y="225.4" width="5.6" height="5.6" fill="#F08A1C"/>
<rect x="394.59" y="239.22" width="5.6" height="5.6" fill="#F08A1C"/>
<line x1="325.2" y1="200.8" x2="325.2" y2="213.9" stroke="#000" stroke-width="1.85"/>
<path d="M321.4,212.9L329,212.9L325.2,221.1Z" fill="#000"/>
<defs><filter id="b1" x="-50%" y="-50%" width="200%" height="200%"><feGaussianBlur stdDeviation="1.1"/></filter><filter id="b2" x="-50%" y="-50%" width="200%" height="200%"><feGaussianBlur stdDeviation="2.2"/></filter><filter id="b3" x="-50%" y="-50%" width="200%" height="200%"><feGaussianBlur stdDeviation="0.7"/></filter><clipPath id="c1"><rect x="212.3" y="458.2" width="83.4" height="46.3"/></clipPath><clipPath id="c2"><rect x="212.3" y="507.6" width="83.4" height="47.2"/></clipPath><clipPath id="c3"><rect x="212.3" y="557.8" width="83.4" height="28.5"/></clipPath></defs>
<rect x="153.2" y="360.7" width="210.3" height="232.3" fill="none" stroke="#000" stroke-width="1.5"/>
<text x="163.8" y="389.9" class="pl">D</text>
<text x="209.4" y="383.6" font-size="11.4">Spleen GFP<tspan dy="-4" font-size="7.5">+</tspan><tspan dy="4"> Lin</tspan><tspan dy="-4" font-size="7.5">-</tspan></text>
<line x1="213.1" y1="388.7" x2="295.3" y2="388.7" stroke="#000" stroke-width="1.5"/>
<text transform="translate(230,454.5) rotate(-90)" font-size="11.7">CALRwt</text>
<text transform="translate(257.5,454.5) rotate(-90)" font-size="11.7">CALRdel52</text>
<text transform="translate(285.2,454.5) rotate(-90)" font-size="11.7">CALRins5</text>
<text x="192" y="448.6" font-size="9.8">kDa</text>
<g clip-path="url(#c1)">
<rect x="212" y="458" width="84" height="47" fill="#d2d2d2"/>
<rect x="210" y="452" width="90" height="16" fill="#b4b4b4" filter="url(#b2)"/>
<rect x="214" y="459" width="6" height="10" fill="#e4e4e4" filter="url(#b2)"/>
<rect x="238.5" y="462" width="4.5" height="40" fill="#d8d8d8" filter="url(#b2)"/>
<rect x="265.5" y="462" width="5" height="40" fill="#e0e0e0" filter="url(#b2)"/>
<rect x="217" y="466" width="20" height="20" fill="#9a9a9a" filter="url(#b2)" opacity="0.7"/>
<rect x="243.5" y="466" width="20" height="20" fill="#9a9a9a" filter="url(#b2)" opacity="0.7"/>
<rect x="271" y="466" width="20" height="20" fill="#9a9a9a" filter="url(#b2)" opacity="0.7"/>
<rect x="217" y="473" width="20" height="5" fill="#868686" filter="url(#b1)"/>
<rect x="243.5" y="473" width="20" height="5" fill="#666" filter="url(#b1)"/>
<rect x="271" y="473" width="20" height="5" fill="#9a9a9a" filter="url(#b1)"/>
<rect x="215.5" y="467.7" width="23" height="7.6" rx="3.8" fill="#343434" filter="url(#b2)"/>
<rect x="216" y="477.6" width="21" height="3.2" rx="1.6" fill="#2e2e2e" filter="url(#b1)"/>
<rect x="217.5" y="487.8" width="19" height="3" rx="1.5" fill="#a6a6a6" filter="url(#b1)"/>
<rect x="242" y="467.2" width="23" height="8.6" rx="4.3" fill="#181818" filter="url(#b2)"/>
<rect x="243" y="478.1" width="21" height="3.2" rx="1.6" fill="#121212" filter="url(#b1)"/>
<rect x="243.5" y="490.4" width="20" height="3.2" rx="1.6" fill="#1e1e1e" filter="url(#b1)"/>
<rect x="270" y="467.7" width="22" height="7.2" rx="3.6" fill="#464646" filter="url(#b2)"/>
<rect x="271" y="478" width="20" height="2.6" rx="1.3" fill="#7a7a7a" filter="url(#b1)"/>
<rect x="270.5" y="482.8" width="21" height="3.2" rx="1.6" fill="#1e1e1e" filter="url(#b1)"/>
<rect x="212" y="501" width="84" height="4" fill="#9a9a9a" filter="url(#b1)"/>
</g>
<rect x="212.3" y="458.4" width="83.4" height="45.8" fill="none" stroke="#111" stroke-width="1.3"/>
<g clip-path="url(#c2)">
<rect x="212" y="507" width="84" height="48" fill="#d6d6d6"/>
<rect x="216" y="515.9" width="22" height="7" rx="3.5" fill="#9c9c9c" filter="url(#b2)"/>
<rect x="242.5" y="515.6" width="22" height="7.6" rx="3.8" fill="#888888" filter="url(#b2)"/>
<rect x="270" y="516.5" width="22" height="7" rx="3.5" fill="#b0b0b0" filter="url(#b2)"/>
<rect x="215.5" y="529.4" width="23.6" height="4.8" rx="2.4" fill="#0a0a0a" filter="url(#b3)"/>
<rect x="243.5" y="527.6" width="20" height="2.8" rx="1.4" fill="#6a6a6a" filter="url(#b1)"/>
<rect x="243" y="531.8" width="21" height="3.2" rx="1.6" fill="#202020" filter="url(#b1)"/>
<rect x="244" y="541.7" width="19" height="2.8" rx="1.4" fill="#7c7c7c" filter="url(#b1)"/>
<rect x="271.5" y="531.2" width="23" height="6.6" rx="3.3" fill="#060606" filter="url(#b3)"/>
</g>
<rect x="212.3" y="507.6" width="83.4" height="47.2" fill="none" stroke="#111" stroke-width="1.3"/>
<g clip-path="url(#c3)">
<rect x="212" y="557" width="84" height="30" fill="#dcdcdc"/>
<rect x="217.2" y="569.7" width="23.6" height="3.4" rx="1.7" fill="#0e0e0e" filter="url(#b3)"/>
<rect x="245.8" y="569.8" width="20" height="3.2" rx="1.6" fill="#131313" filter="url(#b3)"/>
<rect x="271" y="569.7" width="22.4" height="3.6" rx="1.8" fill="#0e0e0e" filter="url(#b3)"/>
</g>
<rect x="212.3" y="557.8" width="83.4" height="28.5" fill="none" stroke="#111" stroke-width="1.3"/>
<text x="176" y="478.6" font-size="12" text-anchor="middle">CALR</text>
<text x="176" y="492.4" font-size="12" text-anchor="middle">mut</text>
<text x="176" y="528.2" font-size="12" text-anchor="middle">CALR</text>
<text x="176" y="542" font-size="12" text-anchor="middle">tot</text>
<text x="157.8" y="575.9" font-size="12">&#946;-actin</text>
<text x="206.3" y="468.9" font-size="9.3" text-anchor="end">70</text>
<line x1="206.3" y1="465.5" x2="212.3" y2="465.5" stroke="#000" stroke-width="1.2"/>
<text x="206.3" y="493.3" font-size="9.3" text-anchor="end">55</text>
<line x1="206.3" y1="489.9" x2="212.3" y2="489.9" stroke="#000" stroke-width="1.2"/>
<text x="206.3" y="520.9" font-size="9.3" text-anchor="end">70</text>
<line x1="206.3" y1="517.5" x2="212.3" y2="517.5" stroke="#000" stroke-width="1.2"/>
<text x="206.3" y="545.7" font-size="9.3" text-anchor="end">55</text>
<line x1="206.3" y1="542.3" x2="212.3" y2="542.3" stroke="#000" stroke-width="1.2"/>
<path d="M295.8,477.9L301.8,474.5L301.8,481.3Z" fill="#000"/>
<path d="M295.8,484.6L301.8,481.2L301.8,488Z" fill="#000"/>
<path d="M295.8,492.8L301.8,489.4L301.8,496.2Z" fill="#000"/>
<path d="M295.8,528.6L301.8,525.2L301.8,532Z" fill="#000"/>
<path d="M295.8,534.9L301.8,531.5L301.8,538.3Z" fill="#000"/>
<path d="M295.8,543.2L301.8,539.8L301.8,546.6Z" fill="#000"/>
<path d="M301.5,477.9H306.6V470.2H313.2M301.5,484.6H314.4M301.5,492.8H306.6V500.8H313.2" stroke="#000" stroke-width="1.5" fill="none"/>
<path d="M301.5,528.6H306.8V520.9H313.9M301.5,534.9H314.6M301.5,543.2H306.8V551H313.9" stroke="#000" stroke-width="1.5" fill="none"/>
<text x="315.8" y="474.6" font-size="11.5">ns</text>
<text x="315.8" y="488.6" font-size="11.5">ins5</text>
<text x="315.8" y="503" font-size="11.5">del52</text>
<text x="315.8" y="538.4" font-size="11.5">wt / ins5</text>
</svg></body></html>
